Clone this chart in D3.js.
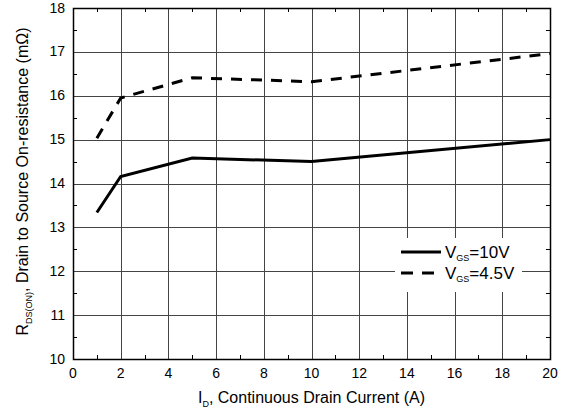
<!DOCTYPE html>
<html>
<head>
<meta charset="utf-8">
<script src="https://cdn.jsdelivr.net/npm/d3@7"></script>
<style>
  body { margin: 0; background: #fff; }
  text { font-family: "Liberation Sans", Arial, sans-serif; fill: #000; }
</style>
</head>
<body>
<div id="chart"></div>
<script>
// Drain current (A)
var currents = [1, 2, 5, 10, 20];
// R_DS(on) in mOhm
var rdsVgs10 = [13.34, 14.16, 14.58, 14.5, 15.0];
var rdsVgs45 = [15.03, 15.95, 16.41, 16.32, 16.96];
var xTicks = [0, 2, 4, 6, 8, 10, 12, 14, 16, 18, 20];
var yTicks = [10, 11, 12, 13, 14, 15, 16, 17, 18];
var xMinor = [1, 3, 5, 7, 9, 11, 13, 15, 17, 19];
var yMinor = [10.5, 11.5, 12.5, 13.5, 14.5, 15.5, 16.5, 17.5];
var seriesNames = ["=10V", "=4.5V"];

var width = 568, height = 412;
var margin = { top: 8, right: 18, bottom: 53, left: 73 };
var plotW = width - margin.left - margin.right,
    plotH = height - margin.top - margin.bottom;

var svg = d3.select("#chart").append("svg")
    .attr("width", width)
    .attr("height", height);

var g = svg.append("g")
    .attr("transform", "translate(" + margin.left + "," + margin.top + ")");

var x = d3.scaleLinear().domain([0, 20]).range([0, plotW]);
var y = d3.scaleLinear().domain([10, 18]).range([plotH, 0]);

// gridlines
g.selectAll(".vgrid").data(xTicks).join("line")
    .attr("x1", d => Math.round(x(d)) + 0.5).attr("x2", d => Math.round(x(d)) + 0.5)
    .attr("y1", 0).attr("y2", plotH)
    .attr("stroke", "#444").attr("stroke-width", 1);
g.selectAll(".hgrid").data(yTicks).join("line")
    .attr("y1", d => Math.round(y(d)) + 0.5).attr("y2", d => Math.round(y(d)) + 0.5)
    .attr("x1", 0).attr("x2", plotW)
    .attr("stroke", "#444").attr("stroke-width", 1);

// minor ticks, inside, all four sides
var tl = 4;
g.selectAll(".xminB").data(xMinor).join("line")
    .attr("x1", d => Math.round(x(d)) + 0.5).attr("x2", d => Math.round(x(d)) + 0.5)
    .attr("y1", plotH).attr("y2", plotH - tl).attr("stroke", "#000");
g.selectAll(".xminT").data(xMinor).join("line")
    .attr("x1", d => Math.round(x(d)) + 0.5).attr("x2", d => Math.round(x(d)) + 0.5)
    .attr("y1", 0).attr("y2", tl).attr("stroke", "#000");
g.selectAll(".yminL").data(yMinor).join("line")
    .attr("y1", d => Math.round(y(d)) + 0.5).attr("y2", d => Math.round(y(d)) + 0.5)
    .attr("x1", 0).attr("x2", tl).attr("stroke", "#000");
g.selectAll(".yminR").data(yMinor).join("line")
    .attr("y1", d => Math.round(y(d)) + 0.5).attr("y2", d => Math.round(y(d)) + 0.5)
    .attr("x1", plotW).attr("x2", plotW - tl).attr("stroke", "#000");

// frame
g.append("rect")
    .attr("x", 0.5).attr("y", 0.5)
    .attr("width", Math.round(plotW)).attr("height", Math.round(plotH))
    .attr("fill", "none").attr("stroke", "#000").attr("stroke-width", 1.5);

// tick labels
g.selectAll(".xlab").data(xTicks).join("text")
    .attr("x", d => x(d)).attr("y", plotH + 18.5)
    .attr("text-anchor", "middle").attr("font-size", 14)
    .text(d => d);
g.selectAll(".ylab").data(yTicks).join("text")
    .attr("x", -8).attr("y", d => y(d) + 4.5)
    .attr("text-anchor", "end").attr("font-size", 14)
    .text(d => d);

// lines
var line = d3.line()
    .x(d => x(d[0]))
    .y(d => y(d[1]));

g.append("path")
    .datum(d3.zip(currents, rdsVgs10))
    .attr("d", line)
    .attr("fill", "none").attr("stroke", "#000").attr("stroke-width", 3);

g.append("path")
    .datum(d3.zip(currents, rdsVgs45))
    .attr("d", line)
    .attr("fill", "none").attr("stroke", "#000").attr("stroke-width", 3)
    .attr("stroke-dasharray", "11,9");

// legend
var lg = svg.append("g").attr("transform", "translate(395,238)");
lg.append("rect").attr("width", 127).attr("height", 54).attr("fill", "#fff");
var dashes = [null, "12,9"];
seriesNames.forEach(function (name, i) {
    var ly = 14 + i * 21;
    lg.append("line")
        .attr("x1", 6).attr("x2", 46).attr("y1", ly).attr("y2", ly)
        .attr("stroke", "#000").attr("stroke-width", 3)
        .attr("stroke-dasharray", dashes[i]);
    var t = lg.append("text").attr("x", 50).attr("y", ly + 6).attr("font-size", 17);
    t.append("tspan").text("V");
    t.append("tspan").attr("font-size", 9).attr("dy", 3).text("GS");
    t.append("tspan").attr("dy", -3).text(name);
});

// axis titles
var xt = svg.append("text")
    .attr("x", margin.left + plotW / 2).attr("y", 403)
    .attr("text-anchor", "middle").attr("font-size", 16);
xt.append("tspan").text("I");
xt.append("tspan").attr("font-size", 9).attr("dy", 4).text("D");
xt.append("tspan").attr("dy", -4).text(", Continuous Drain Current (A)");

var yt = svg.append("text")
    .attr("transform", "translate(28," + (margin.top + plotH / 2 - 2) + ") rotate(-90)")
    .attr("text-anchor", "middle").attr("font-size", 16);
yt.append("tspan").text("R");
yt.append("tspan").attr("font-size", 9).attr("dy", 4).text("DS(ON)");
yt.append("tspan").attr("dy", -4).text(", Drain to Source On-resistance (m\u03A9)");
</script>
</body>
</html>
